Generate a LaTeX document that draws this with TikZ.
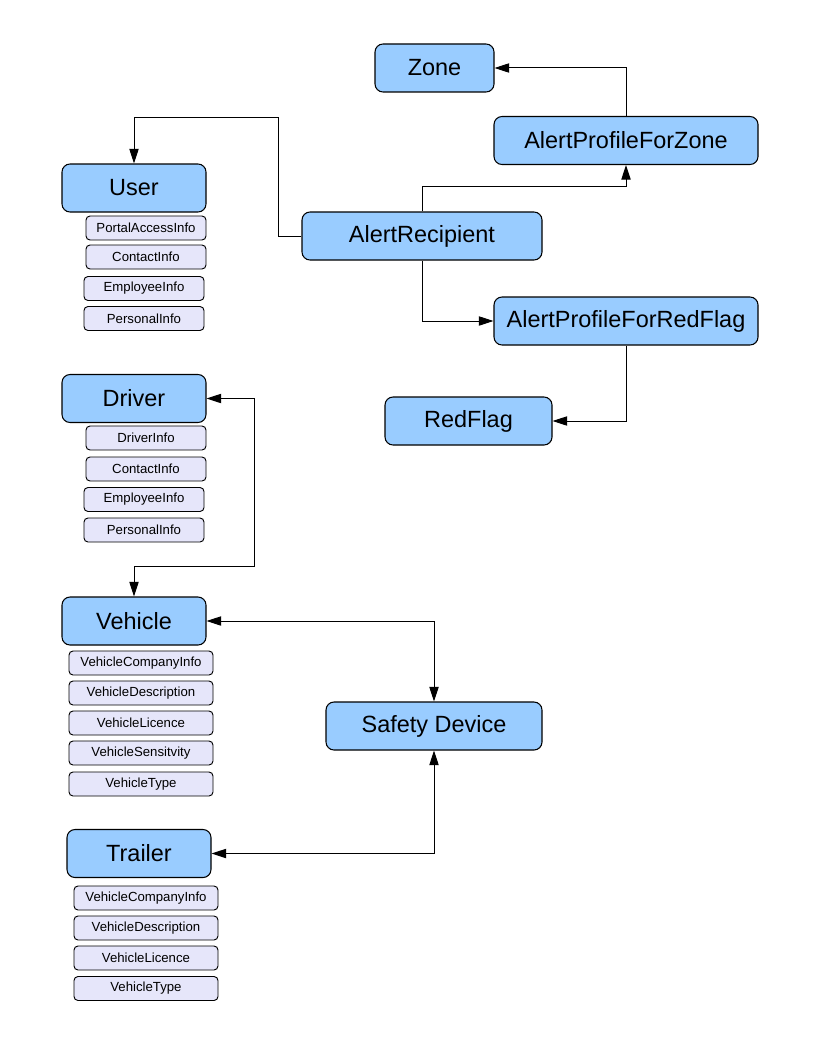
\documentclass[tikz,border=0pt]{standalone}
\usepackage{fontspec}
\setmainfont{Liberation Sans}
\usetikzlibrary{arrows.meta}
\definecolor{entityblue}{RGB}{153,204,255}
\definecolor{infolav}{RGB}{230,230,250}
\begin{document}
\begin{tikzpicture}[x=0.75pt,y=0.75pt,yscale=-1,xscale=1,
    entity/.style={draw=black, line width=0.8pt, fill=entityblue, rounded corners=6pt,
        minimum height=36pt, inner sep=0pt, font=\fontsize{17.6}{20}\selectfont},
    info/.style={draw=black, line width=0.7pt, fill=infolav, rounded corners=3pt,
        minimum height=18pt, inner sep=0pt, font=\fontsize{9.9}{11}\selectfont},
    link/.style={draw=black, line width=0.75pt},
    tip/.style={-{Triangle[length=11pt,width=7pt]}},
    tips/.style={{Triangle[length=11pt,width=7pt]}-{Triangle[length=11pt,width=7pt]}}]
%set diagram to page size
\useasboundingbox (0,0) rectangle (816,1056);

%Entities
\node[entity, minimum width=89.25pt] (zone) at (434.5,68) {Zone};
\node[entity, minimum width=198pt] (apzone) at (626,140.5) {AlertProfileForZone};
\node[entity, minimum width=108pt] (user) at (134,188) {User};
\node[entity, minimum width=180pt] (recip) at (422,236) {AlertRecipient};
\node[entity, minimum width=198pt] (apflag) at (626,321) {AlertProfileForRedFlag};
\node[entity, minimum width=125.25pt] (redflag) at (468.5,421) {RedFlag};
\node[entity, minimum width=108pt] (driver) at (134,398.5) {Driver};
\node[entity, minimum width=108pt] (vehicle) at (134,621) {Vehicle};
\node[entity, minimum width=162pt] (safety) at (434,726) {Safety Device};
\node[entity, minimum width=108pt] (trailer) at (139,853.5) {Trailer};

%User info
\node[info, minimum width=90pt] (userportal) at (146,228) {PortalAccessInfo};
\node[info, minimum width=90pt] (usercontact) at (146,257) {ContactInfo};
\node[info, minimum width=90pt] (useremploy) at (144,288.5) {EmployeeInfo};
\node[info, minimum width=90pt] (userpersonal) at (144,318.5) {PersonalInfo};

%Driver info
\node[info, minimum width=90pt] (driverinfo) at (146,438) {DriverInfo};
\node[info, minimum width=90pt] (drivercontact) at (146,469) {ContactInfo};
\node[info, minimum width=90pt] (driveremploy) at (144,499.5) {EmployeeInfo};
\node[info, minimum width=90pt] (driverpersonal) at (144,530) {PersonalInfo};

%Vehicle info
\node[info, minimum width=108pt] (vehcompany) at (141,663) {VehicleCompanyInfo};
\node[info, minimum width=108pt] (vehdesc) at (141,693) {VehicleDescription};
\node[info, minimum width=108pt] (vehlicence) at (141,723) {VehicleLicence};
\node[info, minimum width=108pt] (vehsens) at (141,753) {VehicleSensitvity};
\node[info, minimum width=108pt] (vehtype) at (141,784) {VehicleType};

%Trailer info
\node[info, minimum width=108pt] (trlcompany) at (146,898) {VehicleCompanyInfo};
\node[info, minimum width=108pt] (trldesc) at (146,928) {VehicleDescription};
\node[info, minimum width=108pt] (trllicence) at (146,958) {VehicleLicence};
\node[info, minimum width=108pt] (trltype) at (146,988.5) {VehicleType};

%Connectors
\coordinate (recipbend) at (278,117);
\coordinate (drivebend) at (254,566);
\draw[link, tip] (recip.west) -| (recipbend) -| (user.north);
\draw[link, tip] (recip.north) -- ++(0,-25) -| (apzone.south);
\draw[link, tip] (apzone.north) |- (zone.east);
\draw[link, tip] (recip.south) |- (apflag.west);
\draw[link, tip] (apflag.south) |- (redflag.east);
\draw[link, tips] (driver.east) -| (drivebend) -| (vehicle.north);
\draw[link, tips] (vehicle.east) -| (safety.north);
\draw[link, tips] (safety.south) |- (trailer.east);

\end{tikzpicture}
\end{document}
